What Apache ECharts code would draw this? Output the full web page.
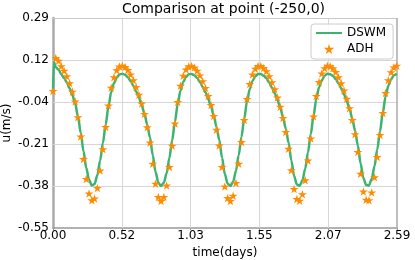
<!DOCTYPE html>
<html>
<head>
<meta charset="utf-8">
<script src="https://cdn.jsdelivr.net/npm/echarts@6/dist/echarts.min.js"></script>
<style>
html,body{margin:0;padding:0;background:#ffffff;}
#chart{width:415px;height:260px;}
</style>
</head>
<body>
<div id="chart"></div>
<script>
// ---- data ----
const stepDays = 1 / 48; // output interval of both models: 30 minutes

const adhU = [
  0.000, 0.132, 0.121, 0.099, 0.081, 0.059, 0.031, -0.003, -0.042, -0.105,
  -0.182, -0.272, -0.352, -0.410, -0.437,
  -0.430, -0.388, -0.318, -0.233, -0.144, -0.058, 0.013, 0.055, 0.083, 0.098, 0.101, 0.096, 0.084,
  0.066, 0.043, 0.016, -0.015, -0.050, -0.092, -0.145, -0.206, -0.291, -0.371, -0.424, -0.440,
  -0.424, -0.378, -0.304, -0.219, -0.130, -0.044, 0.021, 0.061, 0.086, 0.099, 0.100, 0.094, 0.081,
  0.062, 0.039, 0.012, -0.020, -0.056, -0.100, -0.155, -0.218, -0.304, -0.382, -0.428, -0.440,
  -0.419, -0.368, -0.291, -0.204, -0.116, -0.032, 0.028, 0.066, 0.089, 0.100, 0.100, 0.092, 0.079,
  0.059, 0.035, 0.007, -0.026, -0.063, -0.108, -0.164, -0.231, -0.317, -0.392, -0.432,
  -0.439, -0.413, -0.357, -0.278, -0.190, -0.102, -0.020, 0.036, 0.070, 0.091, 0.101, 0.099, 0.091,
  0.076, 0.055, 0.031, 0.002, -0.031, -0.069, -0.116, -0.173, -0.244, -0.331, -0.402, -0.435,
  -0.437, -0.406, -0.345, -0.264, -0.176, -0.088, -0.008, 0.043, 0.075, 0.094, 0.101
];

const dswmU = [
  -0.004, 0.095, 0.085, 0.067, 0.052, 0.034, 0.011, -0.017, -0.050, -0.102,
  -0.166, -0.241, -0.307, -0.355, -0.378,
  -0.372, -0.337, -0.279, -0.208, -0.135, -0.063, -0.004, 0.031, 0.054, 0.066, 0.069, 0.065, 0.055,
  0.040, 0.021, -0.002, -0.027, -0.057, -0.091, -0.135, -0.186, -0.257, -0.323, -0.367, -0.380,
  -0.367, -0.329, -0.267, -0.197, -0.123, -0.052, 0.002, 0.036, 0.056, 0.067, 0.068, 0.063, 0.052,
  0.036, 0.017, -0.005, -0.032, -0.061, -0.098, -0.144, -0.196, -0.267, -0.332, -0.370, -0.380,
  -0.363, -0.320, -0.257, -0.184, -0.111, -0.042, 0.008, 0.040, 0.059, 0.068, 0.068, 0.061, 0.051,
  0.034, 0.014, -0.009, -0.037, -0.067, -0.105, -0.151, -0.207, -0.278, -0.340, -0.374,
  -0.379, -0.358, -0.311, -0.246, -0.173, -0.100, -0.032, 0.015, 0.043, 0.061, 0.069, 0.067, 0.061,
  0.048, 0.031, 0.011, -0.013, -0.041, -0.072, -0.111, -0.159, -0.218, -0.290, -0.349, -0.376,
  -0.378, -0.352, -0.301, -0.234, -0.161, -0.088, -0.022, 0.021, 0.047, 0.063, 0.069
];

// initial spin-up spike of the DSWM line
const dswmSpikeTime = [0.007];
const dswmSpikeU = [0.116];

const seriesNames = ['DSWM', 'ADH'];
const xMin = 0, xMax = 2.586, xStep = 0.5172;          // ticks 0.00 ... 2.59
const yMin = -0.548, yMax = 0.292;                      // ticks -0.55 ... 0.29
const xTickValues = [0, 0.5172, 1.0344, 1.5516, 2.0688, 2.586];
const yTickValues = [-0.548, -0.38, -0.212, -0.044, 0.124, 0.292];
const titleText = 'Comparison at point (-250,0)';
const xName = 'time(days)';
const yName = 'u(m/s)';

// ---- build series data ----
const adhData = adhU.map((u, k) => [k * stepDays, u]);
const dswmData = dswmU.map((u, k) => [k * stepDays, u]);
dswmSpikeTime.forEach((t, i) => dswmData.push([t, dswmSpikeU[i]]));
dswmData.sort((a, b) => a[0] - b[0]);

const FONT = 'DejaVu Sans';
const STAR = 'path://M0,-1L0.2245,-0.309L0.951,-0.309L0.363,0.118L0.588,0.809L0,0.382L-0.588,0.809L-0.363,0.118L-0.951,-0.309L-0.2245,-0.309Z';
const GRID_COLOR = '#d6d6d6';

// grid lines at the labelled tick values, plus the light top / right frame
const gridLineData = []
  .concat(xTickValues.slice(1, -1).map(v => ({ xAxis: v })))
  .concat(yTickValues.slice(1, -1).map(v => ({ yAxis: v })))
  .concat([
    { yAxis: yMax, lineStyle: { color: '#c8c8c8', width: 1 } },
    { xAxis: xMax, lineStyle: { color: '#aaaaaa', width: 1.5 } }
  ]);

const chart = echarts.init(document.getElementById('chart'));
chart.setOption({
  animation: false,
  title: {
    text: titleText,
    left: 122, top: 2, padding: 0,
    textStyle: { fontFamily: FONT, fontSize: 14, fontWeight: 'normal', color: '#000' }
  },
  legend: {
    orient: 'vertical',
    left: 311, top: 24,
    padding: [3, 7, 4, 4],
    itemGap: 4, itemWidth: 26, itemHeight: 10,
    backgroundColor: 'rgba(255,255,255,0.85)',
    borderColor: '#cccccc', borderWidth: 1, borderRadius: 3,
    textStyle: { fontFamily: FONT, fontSize: 12, color: '#000' },
    data: [
      { name: seriesNames[0], itemStyle: { opacity: 0 } },
      { name: seriesNames[1] }
    ],
    z: 10
  },
  grid: { left: 53, right: 18, top: 18, bottom: 32, outerBoundsMode: 'none' },
  xAxis: {
    type: 'value', min: xMin, max: xMax, interval: xStep,
    name: xName, nameLocation: 'middle', nameGap: 15,
    nameTextStyle: { fontFamily: FONT, fontSize: 12, color: '#000' },
    axisLine: { show: true, onZero: false, lineStyle: { color: '#999999', width: 1.5 } },
    axisTick: { show: true, length: 2, lineStyle: { color: '#999999' } },
    axisLabel: { formatter: v => v.toFixed(2), margin: 2,
      fontFamily: FONT, fontSize: 12, color: '#000' },
    splitLine: { show: false }
  },
  yAxis: {
    type: 'value', min: yMin, max: yMax,
    name: yName, nameLocation: 'middle', nameGap: 40, nameRotate: 90, nameMoveOverlap: false,
    nameTextStyle: { fontFamily: FONT, fontSize: 12, color: '#000' },
    axisLine: { show: true, onZero: false, lineStyle: { color: '#aaaaaa', width: 2.5 } },
    axisTick: { show: false },
    axisLabel: { customValues: yTickValues, formatter: v => v.toFixed(2), margin: 4,
      fontFamily: FONT, fontSize: 12, color: '#000' },
    splitLine: { show: false }
  },
  series: [
    {
      name: seriesNames[0], type: 'line', data: dswmData,
      symbol: 'none', smooth: 0.3, smoothMonotone: 'x',
      lineStyle: { color: '#3cb371', width: 2.5 },
      itemStyle: { color: '#3cb371' },
      z: 3
    },
    {
      name: seriesNames[1], type: 'scatter', data: adhData,
      symbol: STAR, symbolSize: 9, symbolKeepAspect: true,
      itemStyle: { color: '#ff8c00', opacity: 1 },
      z: 4,
      markLine: {
        silent: true, z: 1, symbol: ['none', 'none'], precision: 4,
        label: { show: false }, emphasis: { disabled: true },
        lineStyle: { color: GRID_COLOR, type: 'solid', width: 1 },
        data: gridLineData
      }
    }
  ]
});
</script>
</body>
</html>
